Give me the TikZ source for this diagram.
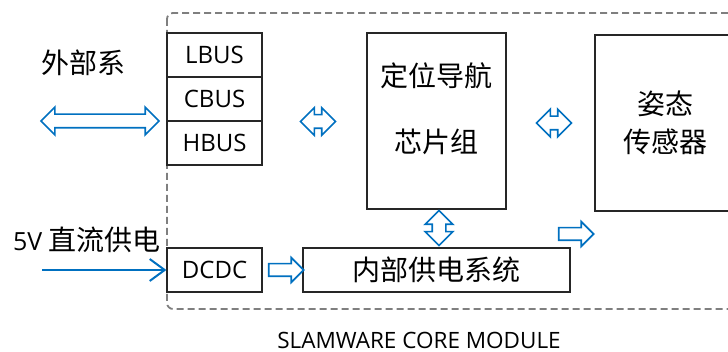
\documentclass[tikz,border=0pt]{standalone}
\usepackage{fontspec}
\setmainfont{Open Sans}
\newfontfamily\cjk{Noto Sans CJK SC}
\usetikzlibrary{arrows.meta,shapes.arrows,positioning}
\definecolor{flowblue}{HTML}{0070C0}
\definecolor{edge}{HTML}{262626}
\definecolor{framegray}{HTML}{7F7F7F}
\tikzset{box/.style={draw=edge, line width=1.2pt, inner sep=0pt}, busbox/.style={box, minimum width=95pt, minimum height=44pt, font=\fontsize{24}{28}\selectfont}, cn/.style={font=\cjk\fontsize{28}{32}\selectfont, inner sep=0pt}, twoway/.style={double arrow, draw=flowblue, fill=white, line width=1.7pt, inner xsep=0pt, inner ysep=6pt, double arrow head extend=7pt}, oneway/.style={single arrow, draw=flowblue, fill=white, line width=1.7pt, inner xsep=0pt, inner ysep=5.5pt, single arrow head extend=6pt}, feed/.style={-{Straight Barb[length=15pt,width=22pt]}, line width=2pt, color=flowblue}, modframe/.style={draw=framegray, line width=1.8pt, dash pattern=on 7pt off 4pt, rounded corners=6pt}}
\begin{document}
\begin{tikzpicture}[x=1pt,y=-1pt]
\useasboundingbox (0,0) rectangle (728,352);
\clip (0,0) rectangle (728,352);
\draw[modframe] (167,13) rectangle (780,309);
% bus interfaces
\node[busbox] (lbus) at (214.5,55) {LBUS};
\node[busbox] (cbus) at (214.5,99) {CBUS};
\node[busbox] (hbus) at (214.5,143) {HBUS};
\node[busbox] (dcdc) at (214.5,270) {DCDC};
% core blocks
\node[box, minimum width=139pt, minimum height=176pt] (chip) at (436.5,121) {};
\node[cn] (chiptop) at (436.5,76) {定位导航};
\node[cn] (chipbot) at (436.5,141.5) {芯片组};
\node[box, minimum width=220pt, minimum height=176pt] (sensor) at (705,123) {};
\node[cn, align=center, font=\cjk\fontsize{28}{37.5}\selectfont] (sensortxt) at (665,123) {姿态\\传感器};
\node[box, minimum width=267pt, minimum height=44pt, font=\cjk\fontsize{28}{32}\selectfont] (power) at (436.5,270) {内部供电系统};
% labels
\node[cn] (extlbl) at (83,63) {外部系};
\node[inner sep=0pt] (vinlbl) at (87,240) {\fontsize{25}{28}\selectfont 5V {\cjk\fontsize{28}{32}\selectfont 直流供电}};
\node[inner sep=0pt, font=\fontsize{22.5}{26}\selectfont] (modlbl) at (419,340) {SLAMWARE CORE MODULE};
% block arrows
\node[twoway, minimum height=118pt] (extbus) at (100,121) {};
\node[twoway, minimum height=35pt] (buschip) at (318,121.5) {};
\node[twoway, minimum height=35pt] (chipsens) at (554,123) {};
\node[twoway, minimum height=35pt, shape border rotate=90, inner xsep=6pt, inner ysep=0pt] (chippow) at (439,228) {};
\node[oneway, minimum height=35pt] (dcdcpow) at (283,270) {};
\node[oneway, minimum height=35pt] (powsens) at (573,234) {};
% supply input
\coordinate (vin) at (42,270);
\draw[feed] (vin) -- (dcdc.west);
\end{tikzpicture}
\end{document}
